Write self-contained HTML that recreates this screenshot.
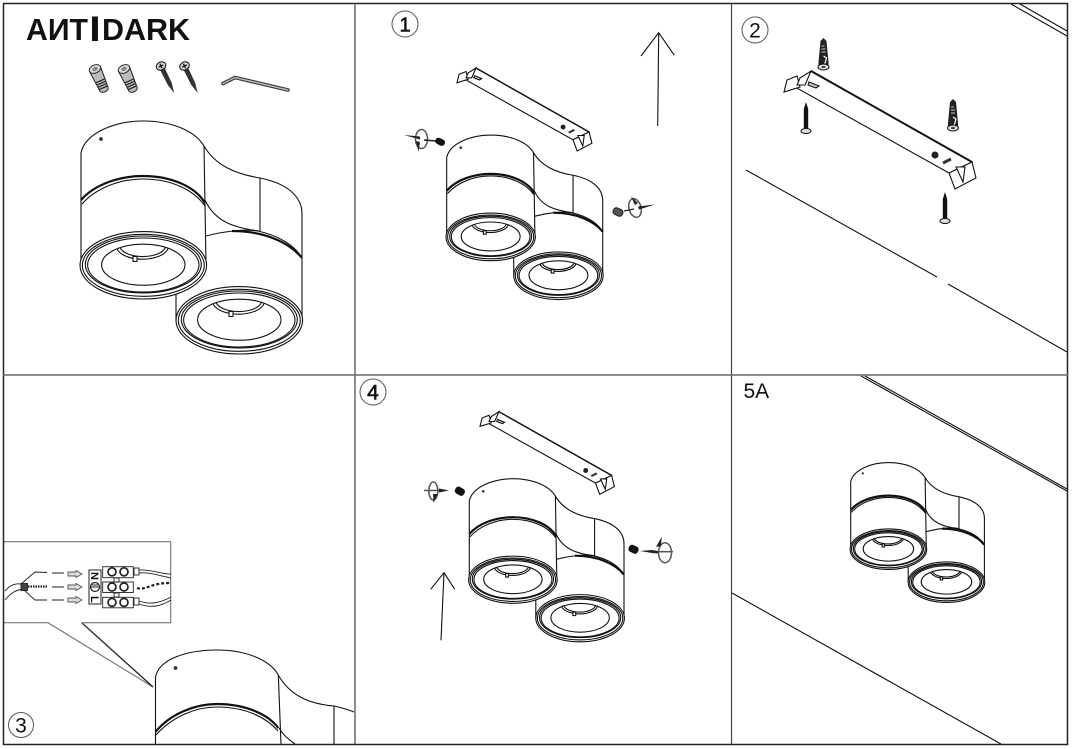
<!DOCTYPE html>
<html><head><meta charset="utf-8"><style>
html,body{margin:0;padding:0;background:#fff;width:1072px;height:749px;overflow:hidden}
svg{display:block}
.l{fill:none;stroke:#111;stroke-width:1.1;vector-effect:non-scaling-stroke}
.w{fill:#fff;stroke:#111;stroke-width:1.1;vector-effect:non-scaling-stroke}
.t{fill:none;stroke:#111;stroke-width:2.2;vector-effect:non-scaling-stroke}
text{font-family:"Liberation Sans",sans-serif;fill:#111}
</style></head><body>
<svg width="1072" height="749" viewBox="0 0 1072 749" xmlns="http://www.w3.org/2000/svg">
<defs>
<g id="front">
<ellipse class="w" cx="143.300" cy="265.300" rx="63.300" ry="33.700"/>
<ellipse class="l" cx="143.300" cy="265.300" rx="61" ry="31"/>
<ellipse class="l" cx="143.300" cy="264.500" rx="58" ry="28.500"/>
<ellipse class="l" cx="143.300" cy="265" rx="55.700" ry="27"/>
<ellipse class="l" cx="143.300" cy="264.700" rx="41.700" ry="20.500"/>
<path class="l" d="M117,248.700A26,13 0 0 0 168,248.700"/>
<path class="l" d="M120,247.200A23,11 0 0 0 165.500,247.200"/>
<rect class="w" x="133" y="256.500" width="4" height="5"/>
</g>
<g id="lamp">
<path class="w" d="M204,146C215,165 235,174 260,178C285,183 302,195 302,214L302,320L176,320L176,280L206,230Z" style="stroke:none"/>
<path class="l" d="M204,146C215,165 235,174 260,178C285,183 302,195 302,214L302,320M176,290L176,320"/>
<path class="l" d="M205,200C215,222 235,228 259,231"/>
<path class="l" d="M260,178L260,231"/>
<path class="l" d="M206,236C225,231 245,229 258,231C280,236 295,246 302,258"/>
<path class="t" d="M232,231C265,231 290,243 302,258"/>
<use href="#front" transform="translate(96,55)"/>
<path class="w" d="M81,153C85,133 115,121 143,121C172,121 195,131 204,146L206,265L81,265Z"/>
<path class="t" d="M81,200C95,184 120,176 143,176C170,176 195,186 205,203"/>
<path class="l" d="M82,204C96,188 120,179 143,179C170,179 193,189 205,206"/>
<circle cx="101" cy="139" r="1.900" fill="#333"/>
<use href="#front"/>
</g>
<g id="bracket">
<path class="w" d="M811,71L972,162L949,173L795,87Z"/>
<path fill="none" stroke="#111" stroke-width="2" d="M811,71L972,162"/>
<path class="w" d="M949,173L972,162L976,178L955,189Z"/>
<path class="w" d="M956,167L963,182L965,167Z"/>
<path class="w" d="M784,92L787,80L797,76L800,87Z"/>
<path class="w" d="M797,85L800,78L811,71L805,85Z"/>
<path class="w" d="M809,82L819,86L816,88L808,85Z" style="fill:#ccc"/>
<circle cx="935" cy="155" r="3.500" fill="#222"/>
<path stroke="#333" stroke-width="3" d="M943,163L951,159"/>
</g>
<g id="anchor">
<path d="M0,0L3,3L5,24L5,29L-5,29L-5,24L-3,3Z" fill="#222"/>
<path d="M-2,8H1M-2,11H2M-2,14H2" stroke="#ccc" stroke-width="1"/>
<path d="M0,18L3,20L1,27" stroke="#fff" fill="none" stroke-width="1.200"/>
<ellipse cx="0" cy="29" rx="5.500" ry="3" fill="#ddd" stroke="#111"/>
<ellipse cx="0" cy="29" rx="2" ry="1" fill="#333"/>
</g>
<g id="screw">
<path d="M0,0L2.200,7L2.200,28L-2.200,28L-2.200,7Z" fill="#111"/>
<ellipse cx="0" cy="29" rx="5" ry="2.500" fill="#ddd" stroke="#111"/>
</g>
<g id="bolt">
<path d="M-6,0L6,0L4.500,22A4.500,3 0 0 1 -4.500,22Z" fill="#bbb" stroke="#222"/>
<path d="M-4.500,13H4.500M-4.500,15.500H4.500M-4.500,18H4.500M-4.500,20.500H4.500" stroke="#222" stroke-width="1.200"/>
<ellipse cx="0" cy="0" rx="6" ry="4" fill="#ddd" stroke="#222"/>
<ellipse cx="0" cy="0" rx="3" ry="2" fill="#888"/>
</g>
<g id="pin">
<path d="M-2.500,2L2.500,2L2.200,20L0,30L-2.200,20Z" fill="#333"/>
<ellipse cx="0" cy="0" rx="5" ry="4" fill="#ccc" stroke="#111"/>
<path d="M-2.500,0H2.500M0,-2.500V2.500" stroke="#111" stroke-width="1.200"/>
</g>
</defs>

<rect x="0" y="0" width="1072" height="749" fill="#fff"/>

<!-- panel 1: overview -->
<text x="26" y="40" font-size="31" font-weight="700" textLength="62" lengthAdjust="spacingAndGlyphs">AИT</text>
<text x="95" y="40.500" font-size="34" font-weight="700" text-anchor="middle" stroke="#111" stroke-width="1">I</text>
<text x="102" y="40" font-size="31" font-weight="700" textLength="88" lengthAdjust="spacingAndGlyphs">DARK</text>
<use href="#bolt" transform="translate(95,69) rotate(-24)"/>
<use href="#bolt" transform="translate(124,69) rotate(-24)"/>
<use href="#pin" transform="translate(161,66) rotate(-26)"/>
<use href="#pin" transform="translate(184.500,66) rotate(-26)"/>
<path d="M223,83.500L235,77.500L288,90" fill="none" stroke="#333" stroke-width="3.600" stroke-linecap="round"/>
<path d="M223,83.500L235,77.500L288,90" fill="none" stroke="#bbb" stroke-width="1.500" stroke-linecap="round"/>
<use href="#lamp"/>

<!-- panel 2: step 1 -->
<circle cx="405" cy="24" r="13" fill="none" stroke="#555"/>
<text x="405" y="31.500" font-size="20" text-anchor="middle" stroke="#111" stroke-width=".6">1</text>
<use href="#bracket" transform="translate(-94.200,18.100) scale(.703)"/>
<use href="#lamp" transform="translate(389.500,49.600) scale(.706)"/>
<path class="l" d="M657.700,126L658.700,32.700M641,56L658.700,32.700L674.300,55.300"/>
<!-- rotate icons -->
<ellipse cx="421.500" cy="139" rx="6" ry="9.500" fill="none" stroke="#555" stroke-width="1.500"/>
<path d="M404,135L420,136.500L420,139.500Z M416,141L420,142L418.500,152Z" fill="#222"/>
<path d="M424,140L436,141" stroke="#222" stroke-width="1.500"/>
<rect x="435" y="138.500" width="10" height="6.500" rx="3" fill="#111" transform="rotate(25 440 142)"/>
<ellipse cx="635" cy="208" rx="6" ry="9.500" fill="none" stroke="#555" stroke-width="1.500" transform="rotate(-15 635 208)"/>
<path d="M655,204.500L638,206.500L639,209.500Z M631,196.500L638,203L635,205Z" fill="#222"/>
<path d="M624,211L634,209" stroke="#222" stroke-width="1.200"/>
<rect x="613" y="208.500" width="10" height="7" rx="3" fill="#555" stroke="#222" transform="rotate(25 618 212)"/>

<!-- panel 3: step 2 -->
<circle cx="755" cy="30" r="13" fill="none" stroke="#555"/>
<text x="755" y="37.500" font-size="21" text-anchor="middle">2</text>
<use href="#bracket"/>
<use href="#anchor" transform="translate(823.500,38)"/>
<use href="#anchor" transform="translate(953,99)"/>
<use href="#screw" transform="translate(806,102)"/>
<use href="#screw" transform="translate(945,192)"/>
<path class="l" d="M746,170L937,277M948,284L1067,352M1011,4L1067,36M1020,4L1067,31"/>

<!-- panel 4: step 3 -->
<g>
<path class="l" d="M155.500,744V677C159,659 187,650 217,650C246,650 270,660 278.300,675C290,696 310,704 334,706C343,708 349,710 354,712"/>
<path class="l" d="M278.300,675L281,744M334,706V744M279,728C283,735 289,740 295,744"/>
<path class="t" d="M155.700,731.700C170,714 195,704 216.700,704C245,704 268,714 278.300,728"/>
<path class="l" d="M156,735C172,717 195,707 216.700,707C245,707 266,717 278,731"/>
<circle cx="175.500" cy="668" r="1.900" fill="#333"/>
</g>
<path d="M4,622.700H48L153,687" fill="none" stroke="#777" stroke-width="1.200"/>
<path d="M81.700,622.700L153,687" fill="none" stroke="#222" stroke-width="1.300"/>
<path d="M4,541.700H170.700V622.700H81.700" fill="none" stroke="#666"/>
<circle cx="21" cy="725" r="12.500" fill="none" stroke="#555"/>
<text x="21" y="732.500" font-size="21" text-anchor="middle">3</text>
<g fill="none" stroke="#222" stroke-width=".9">
<path d="M5,591C9,586 14,583 21,584L35,572L47,572.500M5,600C10,594 15,590 23,589L35,600L47,600M52,573H64M52,587H64M52,600H64"/>
<path d="M28,586.500H48" stroke-width="2.200" stroke-dasharray="1.500 1"/>
<rect x="21" y="583.500" width="6.500" height="7" fill="#444"/>
<g fill="#ddd" stroke="#555">
<path d="M68,572H76V570.500L82,574L76,577.500V576H68Z"/>
<path d="M68,585H76V583.500L82,587L76,590.500V589H68Z"/>
<path d="M68,598H76V596.500L82,600L76,603.500V602H68Z"/>
</g>
<rect x="89" y="570" width="12" height="34" stroke-width="1"/>
<rect x="102.700" y="566.700" width="30.600" height="11" fill="#fff"/>
<rect x="102.700" y="582" width="30.600" height="10.500" fill="#fff"/>
<rect x="102.700" y="597.300" width="30.600" height="10.500" fill="#fff"/>
<rect x="114" y="578" width="5" height="4"/><rect x="114" y="593" width="5" height="4"/>
<g stroke-width="1.700">
<circle cx="112" cy="571.800" r="4"/><circle cx="124" cy="571.800" r="4"/>
<circle cx="112" cy="587" r="4"/><circle cx="124" cy="587" r="4"/>
<circle cx="112" cy="602.400" r="4"/><circle cx="124" cy="602.400" r="4"/>
</g>
<rect x="134" y="568" width="5" height="7"/><rect x="134" y="598" width="5" height="7"/>
<path d="M139,570C150,569 160,574 171,574M139,573C150,572 160,576 171,578M139,601C150,605 160,603 171,597M139,604C150,608 160,607 171,600"/>
<path d="M137,588C145,591 150,583 170,583" stroke-width="2.200" stroke-dasharray="3 2"/>
<circle cx="95" cy="587" r="4.500" stroke-width="1.200"/>
<path d="M91,587H99M92,585H98" stroke-width="1"/>
</g>
<text transform="translate(91,572) rotate(90)" font-size="11" font-weight="700">N</text>
<text transform="translate(91,596) rotate(90)" font-size="11" font-weight="700">L</text>

<!-- panel 5: step 4 -->
<circle cx="373" cy="392" r="13" fill="none" stroke="#555"/>
<text x="373" y="399.500" font-size="21" text-anchor="middle" stroke="#111" stroke-width=".6">4</text>
<use href="#bracket" transform="translate(-68.800,362) scale(.7)"/>
<use href="#lamp" transform="translate(412.600,394) scale(.7)"/>
<path class="l" d="M441,640.300L444,572.700M430.700,589.300L444,572.700L454.700,589.300"/>
<ellipse cx="433.300" cy="491" rx="4.500" ry="9" fill="none" stroke="#555" stroke-width="1.500"/>
<path d="M424,490.500H440" stroke="#555" stroke-width="1.500"/>
<path d="M449,490.500L439,488.500V492.500Z M433.500,503L433,494L437.500,494Z" fill="#222"/>
<rect x="455" y="487.500" width="10" height="7.500" rx="3" fill="#111" transform="rotate(30 460 491)"/>
<ellipse cx="665" cy="552.700" rx="6.500" ry="10" fill="none" stroke="#555" stroke-width="1.500"/>
<path d="M659,551.700H673" stroke="#555" stroke-width="1.500"/>
<path d="M640,551L652,550L658,551L658,553.500L652,553Z M661.700,536.700L661,546L656,547Z" fill="#222"/>
<rect x="628.500" y="545.500" width="10" height="7.500" rx="3" fill="#111" transform="rotate(25 633.500 549.300)"/>

<!-- panel 6: step 5A -->
<text x="743.500" y="398" font-size="21">5A</text>
<use href="#lamp" transform="translate(801.700,390) scale(.605,.6)"/>
<path class="l" d="M861,376L1067,491M865,376L1067,489M732,593L1001,744"/>

<!-- frame -->
<g fill="none">
<rect x="3.500" y="3.500" width="1064" height="741" stroke="#222" stroke-width="1.500"/>
<path d="M355,3V744M731.500,3V744" stroke="#444" stroke-width="1.200"/>
<path d="M3,375H1068" stroke="#666" stroke-width="1.500"/>
</g>
</svg>
</body></html>
